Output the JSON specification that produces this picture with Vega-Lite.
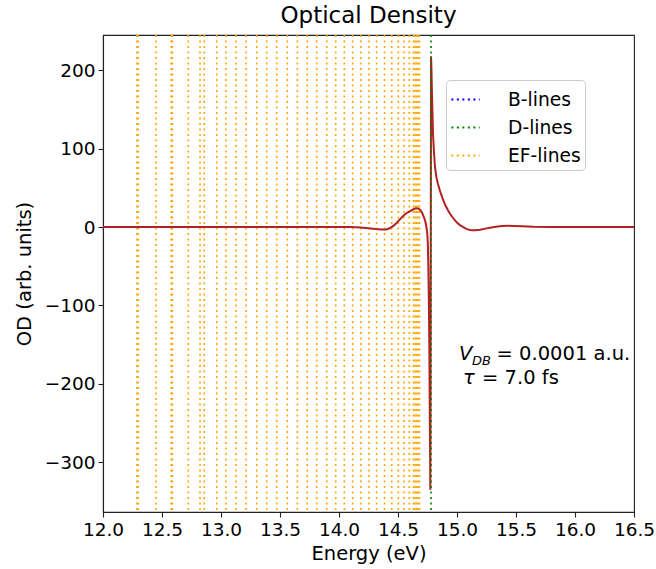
{
  "$schema": "https://vega.github.io/schema/vega-lite/v6.json",
  "width": 531,
  "height": 477,
  "autosize": {"type": "none"},
  "padding": {"left": 103, "top": 35, "right": 22, "bottom": 57},
  "background": "white",
  "title": {"text": "Optical Density", "fontSize": 23, "fontWeight": "normal", "font": "DejaVu Sans", "color": "black", "baseline": "alphabetic", "frame": "group", "offset": 10, "dy": 22},
  "datasets": {
    "lines": [
      {"energy": 12.288, "kind": "EF-lines"},
      {"energy": 12.298, "kind": "EF-lines"},
      {"energy": 12.449, "kind": "EF-lines"},
      {"energy": 12.578, "kind": "EF-lines"},
      {"energy": 12.587, "kind": "EF-lines"},
      {"energy": 12.723, "kind": "EF-lines"},
      {"energy": 12.822, "kind": "EF-lines"},
      {"energy": 12.858, "kind": "EF-lines"},
      {"energy": 12.964, "kind": "EF-lines"},
      {"energy": 13.042, "kind": "EF-lines"},
      {"energy": 13.127, "kind": "EF-lines"},
      {"energy": 13.212, "kind": "EF-lines"},
      {"energy": 13.303, "kind": "EF-lines"},
      {"energy": 13.387, "kind": "EF-lines"},
      {"energy": 13.472, "kind": "EF-lines"},
      {"energy": 13.562, "kind": "EF-lines"},
      {"energy": 13.647, "kind": "EF-lines"},
      {"energy": 13.731, "kind": "EF-lines"},
      {"energy": 13.811, "kind": "EF-lines"},
      {"energy": 13.896, "kind": "EF-lines"},
      {"energy": 13.972, "kind": "EF-lines"},
      {"energy": 14.045, "kind": "EF-lines"},
      {"energy": 14.116, "kind": "EF-lines"},
      {"energy": 14.186, "kind": "EF-lines"},
      {"energy": 14.254, "kind": "EF-lines"},
      {"energy": 14.319, "kind": "EF-lines"},
      {"energy": 14.386, "kind": "EF-lines"},
      {"energy": 14.447, "kind": "EF-lines"},
      {"energy": 14.503, "kind": "EF-lines"},
      {"energy": 14.551, "kind": "EF-lines"},
      {"energy": 14.596, "kind": "EF-lines"},
      {"energy": 14.631, "kind": "EF-lines"},
      {"energy": 14.644, "kind": "EF-lines"},
      {"energy": 14.657, "kind": "EF-lines"},
      {"energy": 14.669, "kind": "EF-lines"},
      {"energy": 14.682, "kind": "EF-lines"},
      {"energy": 14.78, "kind": "D-lines"}
    ],
    "od": [
      {"energy": 12.0, "od": 0},
      {"energy": 12.5, "od": 0},
      {"energy": 13.0, "od": 0},
      {"energy": 13.5, "od": 0},
      {"energy": 13.8, "od": 0},
      {"energy": 14.0, "od": 0.2},
      {"energy": 14.1, "od": 0},
      {"energy": 14.18, "od": -0.6},
      {"energy": 14.25, "od": -1.5},
      {"energy": 14.31, "od": -2.6},
      {"energy": 14.36, "od": -3.2},
      {"energy": 14.4, "od": -3.0},
      {"energy": 14.43, "od": -1.5},
      {"energy": 14.46, "od": 1.5},
      {"energy": 14.49, "od": 5.5},
      {"energy": 14.52, "od": 10.5},
      {"energy": 14.55, "od": 15},
      {"energy": 14.58, "od": 18.5},
      {"energy": 14.61, "od": 21},
      {"energy": 14.635, "od": 23},
      {"energy": 14.655, "od": 24},
      {"energy": 14.675, "od": 23.5},
      {"energy": 14.69, "od": 21.5},
      {"energy": 14.705, "od": 18},
      {"energy": 14.72, "od": 12.5},
      {"energy": 14.73, "od": 8},
      {"energy": 14.74, "od": 1},
      {"energy": 14.748, "od": -8},
      {"energy": 14.753, "od": -22},
      {"energy": 14.757, "od": -50},
      {"energy": 14.762, "od": -100},
      {"energy": 14.766, "od": -160},
      {"energy": 14.769, "od": -230},
      {"energy": 14.772, "od": -290},
      {"energy": 14.774, "od": -335},
      {"energy": 14.776, "od": -200},
      {"energy": 14.778, "od": 0},
      {"energy": 14.78, "od": 218},
      {"energy": 14.784, "od": 198},
      {"energy": 14.788, "od": 170},
      {"energy": 14.793, "od": 140},
      {"energy": 14.797, "od": 118},
      {"energy": 14.805, "od": 95},
      {"energy": 14.814, "od": 76},
      {"energy": 14.826, "od": 63},
      {"energy": 14.839, "od": 55},
      {"energy": 14.856, "od": 46},
      {"energy": 14.877, "od": 37},
      {"energy": 14.898, "od": 29},
      {"energy": 14.92, "od": 22.5},
      {"energy": 14.941, "od": 17},
      {"energy": 14.962, "od": 12.5},
      {"energy": 14.983, "od": 8.5},
      {"energy": 15.004, "od": 5},
      {"energy": 15.025, "od": 2.5},
      {"energy": 15.046, "od": 0.5},
      {"energy": 15.068, "od": -1.5},
      {"energy": 15.09, "od": -3},
      {"energy": 15.11, "od": -3.8},
      {"energy": 15.13, "od": -4.2},
      {"energy": 15.153, "od": -4.0},
      {"energy": 15.195, "od": -3.3},
      {"energy": 15.24, "od": -2.0},
      {"energy": 15.28, "od": -0.8},
      {"energy": 15.33, "od": 0.4},
      {"energy": 15.38, "od": 1.2},
      {"energy": 15.43, "od": 1.6},
      {"energy": 15.48, "od": 1.5},
      {"energy": 15.55, "od": 0.9},
      {"energy": 15.65, "od": 0.3},
      {"energy": 15.8, "od": 0},
      {"energy": 16.0, "od": 0},
      {"energy": 16.5, "od": 0}
    ],
    "note": [{}]
  },
  "layer": [
    {
      "data": {"name": "lines"},
      "transform": [{"filter": "datum.kind === 'EF-lines'"}],
      "mark": {"type": "rule", "strokeWidth": 1.6, "strokeDash": [2, 3.5]},
      "encoding": {
        "x": {
          "field": "energy", "type": "quantitative",
          "scale": {"domain": [12, 16.5], "nice": false, "zero": false},
          "axis": {"values": [12, 12.5, 13, 13.5, 14, 14.5, 15, 15.5, 16, 16.5], "format": ".1f", "labelOverlap": false, "labelFlush": false, "title": "Energy (eV)"}
        },
        "color": {
          "field": "kind", "type": "nominal",
          "scale": {"domain": ["B-lines", "D-lines", "EF-lines"], "range": ["blue", "green", "orange"]},
          "legend": {"title": null, "orient": "none", "legendX": 343, "legendY": 45}
        }
      }
    },
    {
      "data": {"name": "od"},
      "mark": {"type": "line", "color": "#b22222", "strokeWidth": 2},
      "encoding": {
        "x": {"field": "energy", "type": "quantitative"},
        "y": {
          "field": "od", "type": "quantitative",
          "scale": {"domain": [-363.5, 245], "nice": false, "zero": false},
          "axis": {"values": [-300, -200, -100, 0, 100, 200], "format": "d", "labelExpr": "replace(datum.label, '-', '\u2212')", "title": "OD (arb. units)"}
        }
      }
    },
    {
      "data": {"name": "lines"},
      "transform": [{"filter": "datum.kind === 'D-lines'"}],
      "mark": {"type": "rule", "strokeWidth": 1.6, "strokeDash": [2, 3.5]},
      "encoding": {
        "x": {"field": "energy", "type": "quantitative"},
        "color": {"field": "kind", "type": "nominal"}
      }
    },
    {
      "data": {"name": "note"},
      "mark": {"type": "text", "text": "V", "fontStyle": "italic", "fontSize": 19.5, "align": "left", "baseline": "alphabetic", "color": "black"},
      "encoding": {"x": {"datum": 15.017}, "y": {"datum": -169.8}}
    },
    {
      "data": {"name": "note"},
      "mark": {"type": "text", "text": "DB", "fontStyle": "italic", "fontSize": 13, "align": "left", "baseline": "alphabetic", "color": "black"},
      "encoding": {"x": {"datum": 15.128}, "y": {"datum": -175.6}}
    },
    {
      "data": {"name": "note"},
      "mark": {"type": "text", "text": "= 0.0001 a.u.", "fontSize": 19.5, "align": "left", "baseline": "alphabetic", "color": "black"},
      "encoding": {"x": {"datum": 15.335}, "y": {"datum": -169.8}}
    },
    {
      "data": {"name": "note"},
      "mark": {"type": "text", "text": "τ", "fontStyle": "italic", "fontSize": 19.5, "align": "left", "baseline": "alphabetic", "color": "black"},
      "encoding": {"x": {"datum": 15.05}, "y": {"datum": -200.4}}
    },
    {
      "data": {"name": "note"},
      "mark": {"type": "text", "text": "= 7.0 fs", "fontSize": 19.5, "align": "left", "baseline": "alphabetic", "color": "black"},
      "encoding": {"x": {"datum": 15.212}, "y": {"datum": -200.4}}
    }
  ],
  "config": {
    "font": "DejaVu Sans",
    "view": {"stroke": "#222", "strokeWidth": 1.1},
    "axis": {
      "grid": false,
      "domainColor": "#222",
      "domainWidth": 1.1,
      "tickColor": "#222",
      "tickWidth": 1.1,
      "tickSize": 5,
      "labelFontSize": 18.5,
      "labelColor": "black",
      "labelPadding": 3,
      "titleFontSize": 19.5,
      "titleFontWeight": "normal",
      "titleColor": "black"
    },
    "axisX": {"titlePadding": 6},
    "axisY": {"titlePadding": 10},
    "legend": {
      "symbolType": "stroke",
      "symbolSize": 800,
      "symbolStrokeWidth": 2,
      "symbolDash": [2, 3.5],
      "labelFontSize": 18.7,
      "labelColor": "black",
      "labelOffset": 27,
      "padding": 4,
      "rowPadding": 2,
      "strokeColor": "#cccccc",
      "fillColor": "rgba(255,255,255,0.85)",
      "cornerRadius": 4
    }
  }
}
